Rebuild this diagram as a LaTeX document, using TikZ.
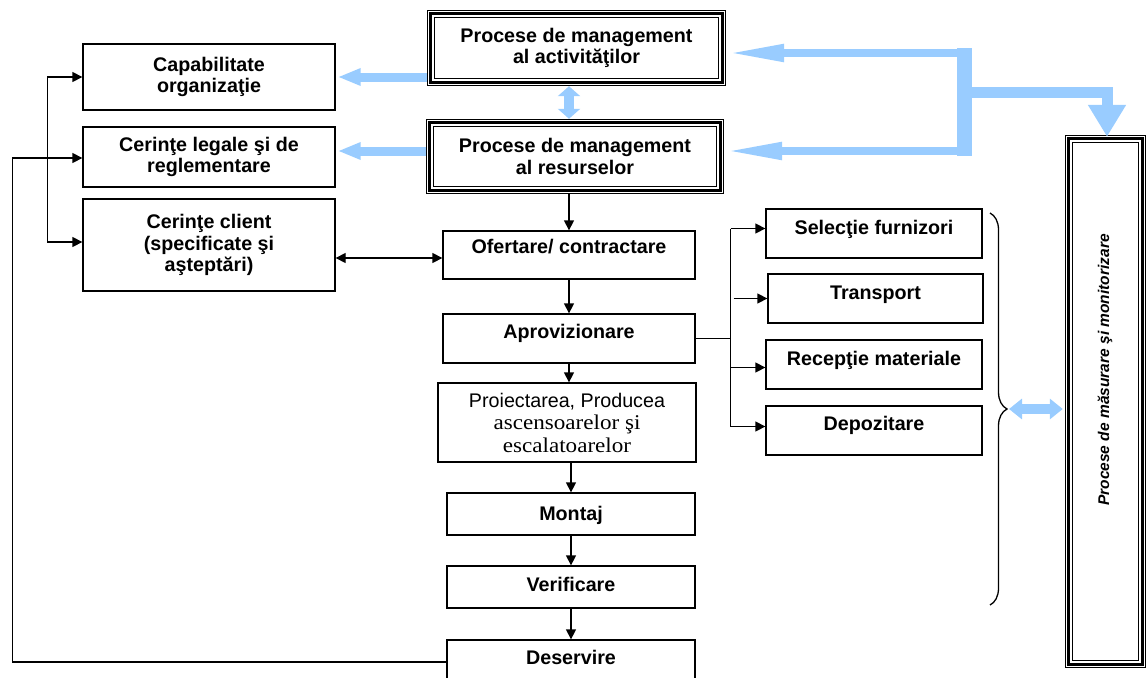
\documentclass[tikz,border=0pt]{standalone}
\usepackage{fontspec}
\setmainfont{Liberation Sans}
\newfontfamily\serifw{Liberation Serif}[FakeStretch=1.1]
\usetikzlibrary{arrows.meta,calc,decorations.pathreplacing}
\definecolor{lblue}{HTML}{99CCFF}
\begin{document}
\begin{tikzpicture}[x=1pt,y=-1pt,
  font=\bfseries\fontsize{19.7pt}{21.5pt}\selectfont,
  box/.style={draw,line width=1.3pt,align=center,inner sep=0pt},
  tribox/.style={align=center,inner sep=0pt},
  tb/.style={text height=14pt,text depth=#1},
  arr/.style={line width=1.3pt,-{Triangle[length=10pt,width=10pt]}},
  dbl/.style={line width=1.3pt,{Triangle[length=10pt,width=10pt]}-{Triangle[length=10pt,width=10pt]}},
  line/.style={line width=1.3pt}]
\useasboundingbox (0,0) rectangle (1147,677);

% management processes (triple frame)
\node[tribox,minimum width=299pt,minimum height=76pt] (pma) at (576.5,48) {Procese de management\\al activităţilor};
\node[tribox,minimum width=298pt,minimum height=75pt] (pmr) at (575,156.5) {Procese de management\\al resurselor};
\node[tribox,minimum width=81pt,minimum height=533pt] (mm) at (1105.5,401.5) {};
\node[rotate=90,font=\bfseries\itshape\fontsize{15.5pt}{17pt}\selectfont] (mmtxt) at (1105,370) {Procese de măsurare şi monitorizare};
\foreach \n in {pma,pmr,mm}{
  \draw[line width=1pt] ([shift={(0.5pt,-0.5pt)}]\n.north west) rectangle ([shift={(-0.5pt,0.5pt)}]\n.south east);
  \draw[line width=3.5pt] ([shift={(3.5pt,-3.5pt)}]\n.north west) rectangle ([shift={(-3.5pt,3.5pt)}]\n.south east);
  \draw[line width=1pt] ([shift={(8pt,-8pt)}]\n.north west) rectangle ([shift={(-8pt,8pt)}]\n.south east);
}

% inputs on the left
\node[box,minimum width=252pt,minimum height=66pt] (cap) at (209,77) {Capabilitate\\organizaţie};
\node[box,minimum width=252pt,minimum height=60pt] (leg) at (209,157) {Cerinţe legale şi de\\reglementare};
\node[box,minimum width=252pt,minimum height=92pt] (cli) at (209,245) {Cerinţe client\\(specificate şi\\aşteptări)};

% main process chain
\node[box,tb=18pt,minimum width=252pt,minimum height=48pt] (ofe) at (569,255) {Ofertare/ contractare};
\node[box,tb=15pt,minimum width=252pt,minimum height=49pt] (apr) at (569,338.5) {Aprovizionare};
\node[box,minimum width=258pt,minimum height=79pt,font=\mdseries\fontsize{19.7pt}{22.5pt}\selectfont] (pro) at (567,422.5)
  {Proiectarea, Producea\\{\serifw\fontsize{21pt}{22.5pt}\selectfont ascensoarelor şi\hspace*{22pt}}\\{\serifw\fontsize{21pt}{22.5pt}\selectfont escalatoarelor}};
\node[box,tb=2pt,minimum width=248pt,minimum height=42pt] (mon) at (571,514) {Montaj};
\node[box,tb=6pt,minimum width=248pt,minimum height=42pt] (ver) at (571,587) {Verificare};
\node[box,tb=10pt,minimum width=248pt,minimum height=44pt] (des) at (571,662) {Deservire};

% procurement sub-processes
\node[box,tb=12.4pt,minimum width=216pt,minimum height=49pt] (sel) at (874,233.5) {Selecţie furnizori};
\node[box,tb=13pt,minimum width=215pt,minimum height=49pt] (tra) at (875.5,298.5) {Transport};
\node[box,tb=13pt,minimum width=216pt,minimum height=49pt] (rec) at (874,364.5) {Recepţie materiale};
\node[box,tb=13.6pt,minimum width=216pt,minimum height=49pt] (dep) at (874,430.5) {Depozitare};

% light blue flows between management processes
\draw[lblue,line width=9pt,-{Triangle[length=23pt,width=16pt]},shorten >=2pt] (pma.west|-cap.east) -- (cap.east);
\draw[lblue,line width=9pt,-{Triangle[length=23pt,width=16pt]},shorten >=2pt] ($(pmr.west|-leg.east)+(0,-6)$) -- ($(leg.east)+(0,-6)$);
\draw[lblue,line width=10pt,{Triangle[length=10pt,width=22pt]}-{Triangle[length=10pt,width=22pt]}] (pma.south-|ofe.north) -- (pmr.north-|ofe.north);
\fill[lblue] (957,48) rectangle (972,156);
\coordinate (hubA) at (964.5,53);
\coordinate (hubB) at (964.5,151);
\coordinate (hubC) at (964.5,92);
\draw[lblue,line width=8pt,-{Triangle[length=58pt,width=16pt]}] (hubA) -- (hubA-|pma.east);
\draw[lblue,line width=8pt,-{Triangle[length=58pt,width=16pt]}] (hubB) -- (hubB-|pmr.east);
\draw[lblue,line width=11pt,-{Triangle[length=32pt,width=36pt]}] (hubC) -| ($(mm.north)+(1.5,2)$);

% main chain arrows
\draw[arr] (pmr.south-|ofe.north) -- (ofe.north);
\draw[arr] (ofe.south) -- (apr.north);
\draw[arr] (apr.south) -- (apr.south|-pro.north);
\draw[arr] (pro.south-|mon.north) -- (mon.north);
\draw[arr] (mon.south) -- (ver.north);
\draw[arr] (ver.south) -- (des.north);

% links on the left
\draw[dbl] (cap.west) -| ($(cli.west)+(-35,-3)$) -- ($(cli.west)+(0,-3)$);
\draw[arr] (des.west) -| ($(leg.west)+(-70,1)$) -- ($(leg.west)+(0,1)$);
\draw[dbl] ($(cli.east|-ofe.west)+(0,3)$) -- ($(ofe.west)+(0,3)$);

% procurement branching
\coordinate (brx) at ($(apr.east)+(35,0)$);
\draw[line] (apr.east) -- (brx);
\draw[line] ($(brx|-sel.west)+(0,-5)$) -- ($(brx|-dep.west)+(0,-4)$);
\draw[arr] ($(brx|-sel.west)+(0,-5)$) -- ($(sel.west)+(0,-5)$);
\draw[arr] ($(brx|-tra.west)+(3,0)$) -- (tra.west);
\draw[arr] ($(brx|-rec.west)+(0,3)$) -- ($(rec.west)+(0,3)$);
\draw[arr] ($(brx|-dep.west)+(0,-4)$) -- ($(dep.west)+(0,-4)$);

% brace grouping the operational processes
\coordinate (brT) at (990,213);
\coordinate (brB) at (990,605);
\coordinate (brTip) at (1009,409);
\draw[line,decorate,decoration={brace,amplitude=17pt}] (brT) -- (brB);
\draw[lblue,line width=10pt,{Triangle[length=13pt,width=20pt]}-{Triangle[length=13pt,width=20pt]},shorten >=2pt] (brTip) -- (brTip-|mm.west);
\end{tikzpicture}
\end{document}
